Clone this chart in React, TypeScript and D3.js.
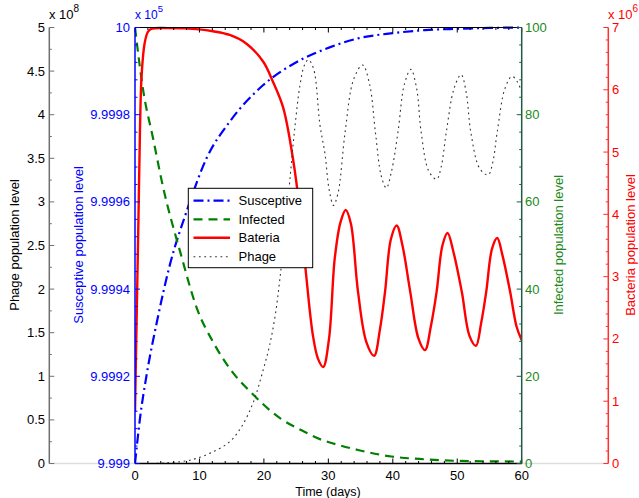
import React from "react";
import * as d3 from "d3";

// ---------- data ----------
// Susceptive population (units of 1e5)
const susT = [0, 0.3, 0.78, 1.8, 3.4, 5.4, 8.0, 11.1, 14.7, 19.9, 25.1, 30.3, 34.6, 40, 45, 50, 55, 60];
const susV = [9.999, 9.999042, 9.999104, 9.999203, 9.999325, 9.999455, 9.999578, 9.9997, 9.999784, 9.999868, 9.999921, 9.999955, 9.999975, 9.999987, 9.999994, 9.999997, 9.999999, 10.0];

// Infected population
const infT = [0, 1.3, 2.8, 4.4, 7.0, 9.6, 12.1, 14.7, 18.4, 22.5, 26, 29.2, 30.5, 34.6, 39.8, 45, 50.2, 55, 60];
const infV = [100, 85.3, 74.6, 63.1, 48.6, 35.6, 27.9, 21.8, 15.7, 10.4, 7.5, 5.3, 4.7, 3.1, 1.6, 0.96, 0.6, 0.5, 0.45];

// Bacteria population (units of 1e6)
const bacT = [0, 0.25, 0.52, 0.78, 1.03, 1.5, 2.0, 2.6, 5, 10, 12.1, 14.7, 17.3, 19.9, 21.4, 23, 24.5, 25.6, 26.6, 27.6, 28.4, 29.2, 30.1, 31.0, 31.9, 32.7, 33.5, 34.6, 35.9, 37.1, 38.0, 38.8, 39.7, 40.6, 41.5, 42.7, 44.0, 45.0, 45.9, 46.8, 47.7, 48.5, 49.4, 50.7, 51.9, 52.9, 53.7, 54.5, 55.4, 56.2, 57.0, 58.2, 59.2, 60];
const bacV = [0.83, 2.3, 3.83, 5.4, 6.24, 6.75, 6.93, 6.98, 6.99, 6.97, 6.94, 6.88, 6.74, 6.45, 6.13, 5.71, 4.9, 4.04, 2.98, 2.06, 1.68, 1.55, 2.0, 3.3, 3.88, 4.07, 3.85, 2.76, 1.95, 1.73, 2.15, 2.76, 3.6, 3.82, 3.5, 2.76, 2.0, 1.82, 2.2, 2.76, 3.5, 3.7, 3.4, 2.76, 2.05, 1.89, 2.25, 2.76, 3.45, 3.62, 3.35, 2.76, 2.2, 1.98];

// Phage population (units of 1e8)
const phaT = [0, 4, 8, 9.6, 12, 14.7, 16.6, 18.4, 19.8, 20.9, 21.8, 22.5, 23.3, 24.0, 24.8, 25.6, 26.3, 26.9, 27.7, 28.7, 29.5, 30.1, 30.8, 31.5, 32.6, 33.9, 35.3, 36.4, 37.3, 38.2, 39.0, 39.8, 40.8, 41.8, 42.8, 43.7, 44.4, 45.6, 46.8, 47.5, 48.3, 49.5, 50.6, 51.4, 52.1, 53.5, 54.8, 55.5, 56.2, 57.4, 58.5, 59.3, 60];
const phaV = [0, 0.003, 0.03, 0.06, 0.13, 0.25, 0.43, 0.71, 1.05, 1.36, 1.72, 2.13, 2.68, 3.23, 3.85, 4.34, 4.57, 4.63, 4.53, 3.88, 3.54, 3.15, 2.96, 3.1, 3.8, 4.4, 4.57, 4.35, 3.8, 3.3, 3.16, 3.35, 3.8, 4.35, 4.52, 4.3, 3.8, 3.35, 3.26, 3.4, 3.8, 4.3, 4.46, 4.25, 3.8, 3.38, 3.31, 3.45, 3.8, 4.3, 4.44, 4.38, 4.26];

// tick labels
const xTickLabels = ["0", "10", "20", "30", "40", "50", "60"];
const phageTickLabels = ["0", "0.5", "1", "1.5", "2", "2.5", "3", "3.5", "4", "4.5", "5"];
const susTickLabels = ["9.999", "9.9992", "9.9994", "9.9996", "9.9998", "10"];
const infTickLabels = ["0", "20", "40", "60", "80", "100"];
const bacTickLabels = ["0", "1", "2", "3", "4", "5", "6", "7"];
const legendNames = ["Susceptive", "Infected", "Bateria", "Phage"];

// ---------- layout ----------
const W = 639, H = 498;
const L = 135, R = 521.7, T = 27.5, B = 463.5;
const AX_PHAGE = 49.3, AX_BAC = 608.3;
const FONT = "'Liberation Sans', Arial, Helvetica, sans-serif";
const BLUE = "#0000ff", GREEN = "#1a8a1a", RED = "#ff0000";

const x = d3.scaleLinear().domain([0, 60]).range([L, R]);
const yPha = d3.scaleLinear().domain([0, 5]).range([B, T]);
const ySus = d3.scaleLinear().domain([9.999, 10]).range([B, T]);
const yInf = d3.scaleLinear().domain([0, 100]).range([B, T]);
const yBac = d3.scaleLinear().domain([0, 7]).range([B, T]);

function path(ts: number[], vs: number[], y: d3.ScaleLinear<number, number>, curve: any = d3.curveMonotoneX) {
  const pts = ts.map((t, i) => [t, vs[i]] as [number, number]);
  return d3.line<[number, number]>().x(d => x(d[0])).y(d => y(d[1])).curve(curve)(pts) || "";
}

function VAxis({ ax, scale, majors, minors, labels, dir, color, lineColor, labelX, anchor }: any) {
  return (
    <g>
      <line x1={ax} x2={ax} y1={T} y2={B} stroke={lineColor} strokeWidth={1.5} />
      {minors.map((v: number, i: number) => (
        <line key={"m" + i} x1={ax} x2={ax + dir * 2.5} y1={scale(v)} y2={scale(v)} stroke={lineColor} strokeWidth={1} />
      ))}
      {majors.map((v: number, i: number) => (
        <g key={"M" + i}>
          <line x1={ax} x2={ax + dir * 5} y1={scale(v)} y2={scale(v)} stroke={lineColor} strokeWidth={1} />
          <text x={labelX} y={scale(v)} dy="0.35em" textAnchor={anchor} fill={color} fontSize={13} fontFamily={FONT}>{labels[i]}</text>
        </g>
      ))}
    </g>
  );
}

export default function App() {
  const xMaj = d3.range(0, 61, 10);
  const xMin = d3.range(0, 61, 2).filter(v => v % 10 !== 0);
  const phMaj = d3.range(0, 11).map(i => i * 0.5);
  const phMin = d3.range(0, 10).map(i => i * 0.5 + 0.25);
  const suMaj = d3.range(0, 6).map(i => 9.999 + i * 0.0002);
  const suMin = d3.range(0, 26).filter(i => i % 5 !== 0).map(i => 9.999 + i * 0.00004);
  const inMaj = d3.range(0, 6).map(i => i * 20);
  const inMin = d3.range(0, 26).filter(i => i % 5 !== 0).map(i => i * 4);
  const baMaj = d3.range(0, 8);
  const baMin = d3.range(0, 36).filter(i => i % 5 !== 0).map(i => i * 0.2);

  const legX = 188.3, legY = 188.3, legW = 124.4, legH = 79.4;
  const rowsY = [200.7, 219.3, 237.8, 256.7];
  const styles = [
    { stroke: BLUE, dash: "10,4,2,4", w: 2.2 },
    { stroke: "#008000", dash: "9,6", w: 2.2 },
    { stroke: RED, dash: "", w: 2.4 },
    { stroke: "#333", dash: "1.8,3.6", w: 1.1 },
  ];

  const smooth = d3.curveCatmullRom.alpha(0.5);

  return (
    <svg width={W} height={H} style={{ position: "absolute", left: 0, top: 0, background: "#fff" }}>
      <rect width={W} height={H} fill="#fff" />
      <defs>
        <clipPath id="plotclip">
          <rect x={L} y={T - 2} width={R - L} height={B - T + 2} />
        </clipPath>
      </defs>

      {/* light gray bottoms of offset axes */}
      <line x1={AX_PHAGE} x2={L} y1={B} y2={B} stroke="#dddddd" strokeWidth={1.5} />
      <line x1={R} x2={AX_BAC} y1={B} y2={B} stroke="#dddddd" strokeWidth={1.5} />

      {/* curves */}
      <g clipPath="url(#plotclip)" fill="none">
        <path d={path(susT, susV, ySus)} stroke={BLUE} strokeWidth={2.2} strokeDasharray="10,4,2,4" />
        <path d={path(infT, infV, yInf)} stroke="#008000" strokeWidth={2.2} strokeDasharray="9,6" />
        <path d={path(bacT, bacV, yBac, smooth)} stroke={RED} strokeWidth={2.4} />
        <path d={path(phaT, phaV, yPha, smooth)} stroke="#333" strokeWidth={1.1} strokeDasharray="1.8,3.6" />
      </g>

      {/* plot box top/bottom with x ticks */}
      <line x1={L} x2={R} y1={T} y2={T} stroke="#000" strokeWidth={1} />
      <line x1={L} x2={R} y1={B} y2={B} stroke="#000" strokeWidth={1.5} />
      {xMin.map((v, i) => (
        <g key={"xm" + i}>
          <line x1={x(v)} x2={x(v)} y1={B} y2={B - 2.5} stroke="#000" />
          <line x1={x(v)} x2={x(v)} y1={T} y2={T + 2.5} stroke="#000" />
        </g>
      ))}
      {xMaj.map((v, i) => (
        <g key={"xM" + i}>
          <line x1={x(v)} x2={x(v)} y1={B} y2={B - 5} stroke="#000" />
          <line x1={x(v)} x2={x(v)} y1={T} y2={T + 5} stroke="#000" />
          <text x={x(v)} y={480} textAnchor="middle" fontSize={13} fontFamily={FONT} fill="#000">{xTickLabels[i]}</text>
        </g>
      ))}
      <text x={328} y={495.5} textAnchor="middle" fontSize={12.5} fontFamily={FONT} fill="#000">Time (days)</text>

      {/* phage axis (left, black) */}
      <VAxis ax={AX_PHAGE} scale={yPha} majors={phMaj} minors={phMin} labels={phageTickLabels} dir={1} color="#000" lineColor="#707070" labelX={45} anchor="end" />
      <text x={49} y={19} fontSize={13} fontFamily={FONT} fill="#000">x 10<tspan dy={-7} fontSize={10}>8</tspan></text>
      <text transform="translate(14.5,245) rotate(-90)" textAnchor="middle" dy="0.35em" fontSize={13} fontFamily={FONT} fill="#000">Phage population level</text>

      {/* susceptive axis (blue) */}
      <VAxis ax={L} scale={ySus} majors={suMaj} minors={suMin} labels={susTickLabels} dir={1} color={BLUE} lineColor={BLUE} labelX={130} anchor="end" />
      <text x={135} y={19} fontSize={12} fontFamily={FONT} fill={BLUE}>x 10<tspan dy={-7} fontSize={9.5}>5</tspan></text>
      <text transform="translate(78,245) rotate(-90)" textAnchor="middle" dy="0.35em" fontSize={13} fontFamily={FONT} fill={BLUE}>Susceptive population level</text>

      {/* infected axis (green, right of plot) */}
      <VAxis ax={R} scale={yInf} majors={inMaj} minors={inMin} labels={infTickLabels} dir={-1} color={GREEN} lineColor="#1e5a46" labelX={525} anchor="start" />
      <text transform="translate(558,245) rotate(-90)" textAnchor="middle" dy="0.35em" fontSize={13} fontFamily={FONT} fill={GREEN}>Infected population level</text>

      {/* bacteria axis (red, far right) */}
      <VAxis ax={AX_BAC} scale={yBac} majors={baMaj} minors={baMin} labels={bacTickLabels} dir={-1} color={RED} lineColor="#ff3030" labelX={612} anchor="start" />
      <text x={608} y={18.5} fontSize={13} fontFamily={FONT} fill={RED}>x 10<tspan dy={-7} fontSize={10}>6</tspan></text>
      <text transform="translate(630,245) rotate(-90)" textAnchor="middle" dy="0.35em" fontSize={13} fontFamily={FONT} fill={RED}>Bacteria population level</text>

      {/* legend */}
      <rect x={legX} y={legY} width={legW} height={legH} fill="#fff" stroke="#000" strokeWidth={1} />
      {legendNames.map((n, i) => (
        <g key={n}>
          <line x1={193.5} x2={230} y1={rowsY[i]} y2={rowsY[i]} stroke={styles[i].stroke} strokeWidth={styles[i].w} strokeDasharray={styles[i].dash} />
          <text x={238.5} y={rowsY[i]} dy="0.35em" fontSize={13} fontFamily={FONT} fill="#000">{n}</text>
        </g>
      ))}
    </svg>
  );
}
